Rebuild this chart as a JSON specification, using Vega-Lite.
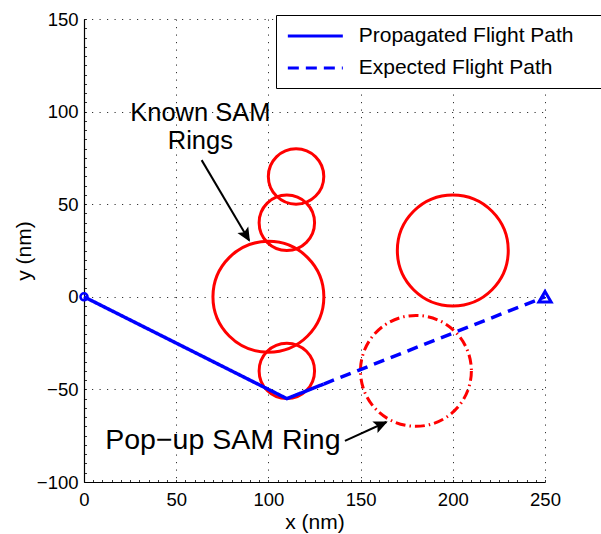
{
  "$schema": "https://vega.github.io/schema/vega-lite/v6.json",
  "width": 461,
  "height": 463,
  "autosize": "none",
  "padding": {"left": 84, "top": 19, "right": 56, "bottom": 52},
  "background": "white",
  "config": {
    "view": {"stroke": null},
    "font": "Liberation Sans",
    "axis": {
      "labelFont": "Liberation Sans",
      "titleFont": "Liberation Sans",
      "labelColor": "black",
      "titleColor": "black",
      "domainColor": "black",
      "tickColor": "black",
      "titleFontWeight": "normal"
    }
  },
  "datasets": {
    "knownRings": [
      {"x": 100, "y": 0, "r": 30},
      {"x": 110, "y": 40, "r": 15},
      {"x": 115, "y": 65, "r": 15},
      {"x": 110, "y": -40, "r": 15},
      {"x": 200, "y": 25, "r": 30}
    ],
    "popupRing": [
      {"x": 180, "y": -40, "r": 30}
    ],
    "flightPath": [
      {"series": "Propagated Flight Path", "i": 0, "x": 0, "y": 0},
      {"series": "Propagated Flight Path", "i": 1, "x": 110, "y": -55},
      {"series": "Propagated Flight Path", "i": 2, "x": 130, "y": -47.1},
      {"series": "Expected Flight Path", "i": 0, "x": 130, "y": -47.1},
      {"series": "Expected Flight Path", "i": 1, "x": 250, "y": 0}
    ],
    "start": [{"x": 0, "y": 0}],
    "goal": [{"x": 250, "y": 0}],
    "knownLabel": [
      {"x": 63.1, "y": 99.4, "text": "Known SAM"},
      {"x": 63.1, "y": 84.0, "text": "Rings"}
    ],
    "popupLabel": [
      {"x": 75.3, "y": -77.1, "text": "Pop−up SAM Ring"}
    ],
    "arrows": [
      {"arrow": "known", "i": 0, "x": 63.8, "y": 73.8},
      {"arrow": "known", "i": 1, "x": 89.5, "y": 30.5},
      {"arrow": "popup", "i": 0, "x": 141.5, "y": -77.8},
      {"arrow": "popup", "i": 1, "x": 164.0, "y": -67.6}
    ],
    "knownTip": [{"x": 90.0, "y": 29.7}],
    "popupTip": [{"x": 164.7, "y": -67.3}]
  },
  "layer": [
    {
      "data": {"name": "knownRings"},
      "mark": {"type": "point", "filled": false, "opacity": 1, "color": "#ff0000", "strokeWidth": 3},
      "encoding": {
        "x": {
          "field": "x", "type": "quantitative",
          "scale": {"domain": [0, 250], "nice": false, "zero": false},
          "axis": {
            "orient": "bottom",
            "values": [0, 50, 100, 150, 200, 250],
            "grid": true, "gridColor": "#333333", "gridDash": [1.2, 6.3], "gridWidth": 1,
            "ticks": false, "domain": true, "domainWidth": 1.2,
            "labelFontSize": 18.5, "labelPadding": 8, "labelFlush": false,
            "title": "x (nm)", "titleFontSize": 21, "titlePadding": 3
          }
        },
        "y": {
          "field": "y", "type": "quantitative",
          "scale": {"domain": [-100, 150], "nice": false, "zero": false},
          "axis": {
            "orient": "left",
            "values": [-100, -50, 0, 50, 100, 150],
            "grid": true, "gridColor": "#333333", "gridDash": [1.2, 6.3], "gridWidth": 1,
            "ticks": false, "domain": true, "domainWidth": 1.2,
            "labelFontSize": 18.5, "labelPadding": 6, "labelFlush": false,
            "title": "y (nm)", "titleFontSize": 21, "titlePadding": 2
          }
        },
        "size": {
          "field": "r", "type": "quantitative",
          "scale": {"type": "pow", "exponent": 2, "domain": [0, 30], "range": [0, 12300]},
          "legend": null
        }
      }
    },
    {
      "data": {"name": "popupRing"},
      "mark": {"type": "point", "filled": false, "opacity": 1, "color": "#ff0000", "strokeWidth": 3, "strokeDash": [10, 4, 1.5, 4]},
      "encoding": {
        "x": {"field": "x", "type": "quantitative", "axis": null},
        "y": {"field": "y", "type": "quantitative", "axis": null},
        "size": {"field": "r", "type": "quantitative", "legend": null}
      }
    },
    {
      "data": {"name": "flightPath"},
      "mark": {"type": "line", "color": "#0000ff", "strokeWidth": 3.5, "strokeCap": "butt"},
      "encoding": {
        "x": {
          "field": "x", "type": "quantitative",
          "axis": {
            "orient": "bottom",
            "values": [0,5,10,15,20,25,30,35,40,45,50,55,60,65,70,75,80,85,90,95,100,105,110,115,120,125,130,135,140,145,150,155,160,165,170,175,180,185,190,195,200,205,210,215,220,225,230,235,240,245,250],
            "labels": false, "domain": false, "grid": false,
            "ticks": true, "tickSize": -2.5, "tickWidth": 0.8, "title": null
          }
        },
        "y": {
          "field": "y", "type": "quantitative",
          "axis": {
            "orient": "left",
            "values": [-100,-95,-90,-85,-80,-75,-70,-65,-60,-55,-50,-45,-40,-35,-30,-25,-20,-15,-10,-5,0,5,10,15,20,25,30,35,40,45,50,55,60,65,70,75,80,85,90,95,100,105,110,115,120,125,130,135,140,145,150],
            "labels": false, "domain": false, "grid": false,
            "ticks": true, "tickSize": -2.5, "tickWidth": 0.8, "title": null
          }
        },
        "order": {"field": "i", "type": "quantitative"},
        "strokeDash": {
          "field": "series", "type": "nominal",
          "scale": {
            "domain": ["Propagated Flight Path", "Expected Flight Path"],
            "range": [[1, 0], [11, 7]]
          },
          "legend": {
            "title": null,
            "orient": "none",
            "legendX": 192,
            "legendY": -4,
            "symbolType": "M-1,0L5,0M32.2,0",
            "symbolSize": 336,
            "symbolStrokeWidth": 3,
            "symbolStrokeColor": "#0000ff",
            "labelFont": "Liberation Sans",
            "labelFontSize": 21,
            "labelColor": "black",
            "labelOffset": 50.7,
            "labelLimit": 400,
            "rowPadding": 11,
            "padding": 10,
            "strokeColor": "black",
            "fillColor": "white",
            "cornerRadius": 0
          }
        }
      }
    },
    {
      "data": {"name": "start"},
      "mark": {"type": "point", "shape": "circle", "filled": false, "opacity": 1, "color": "#0000ff", "strokeWidth": 2.5, "size": 50},
      "encoding": {
        "x": {"field": "x", "type": "quantitative", "axis": null},
        "y": {"field": "y", "type": "quantitative", "axis": null}
      }
    },
    {
      "data": {"name": "goal"},
      "mark": {"type": "point", "shape": "triangle-up", "filled": false, "opacity": 1, "color": "#0000ff", "strokeWidth": 3, "size": 150},
      "encoding": {
        "x": {"field": "x", "type": "quantitative", "axis": null},
        "y": {"field": "y", "type": "quantitative", "axis": null}
      }
    },
    {
      "data": {"name": "arrows"},
      "mark": {"type": "line", "color": "black", "strokeWidth": 2},
      "encoding": {
        "x": {"field": "x", "type": "quantitative", "axis": null},
        "y": {"field": "y", "type": "quantitative", "axis": null},
        "detail": {"field": "arrow", "type": "nominal"},
        "order": {"field": "i", "type": "quantitative"}
      }
    },
    {
      "data": {"name": "knownTip"},
      "mark": {"type": "point", "shape": "M0,0 L-0.45,1 L0,0.8 L0.45,1 Z", "filled": true, "opacity": 1, "color": "black", "size": 784, "angle": 149.4},
      "encoding": {
        "x": {"field": "x", "type": "quantitative", "axis": null},
        "y": {"field": "y", "type": "quantitative", "axis": null}
      }
    },
    {
      "data": {"name": "popupTip"},
      "mark": {"type": "point", "shape": "M0,0 L-0.45,1 L0,0.8 L0.45,1 Z", "filled": true, "opacity": 1, "color": "black", "size": 784, "angle": 65.7},
      "encoding": {
        "x": {"field": "x", "type": "quantitative", "axis": null},
        "y": {"field": "y", "type": "quantitative", "axis": null}
      }
    },
    {
      "data": {"name": "knownLabel"},
      "mark": {"type": "text", "font": "Liberation Sans", "fontSize": 25.5, "color": "black", "align": "center", "baseline": "middle"},
      "encoding": {
        "x": {"field": "x", "type": "quantitative", "axis": null},
        "y": {"field": "y", "type": "quantitative", "axis": null},
        "text": {"field": "text"}
      }
    },
    {
      "data": {"name": "popupLabel"},
      "mark": {"type": "text", "font": "Liberation Sans", "fontSize": 28.5, "color": "black", "align": "center", "baseline": "middle"},
      "encoding": {
        "x": {"field": "x", "type": "quantitative", "axis": null},
        "y": {"field": "y", "type": "quantitative", "axis": null},
        "text": {"field": "text"}
      }
    }
  ],
  "resolve": {"axis": {"x": "independent", "y": "independent"}}
}
